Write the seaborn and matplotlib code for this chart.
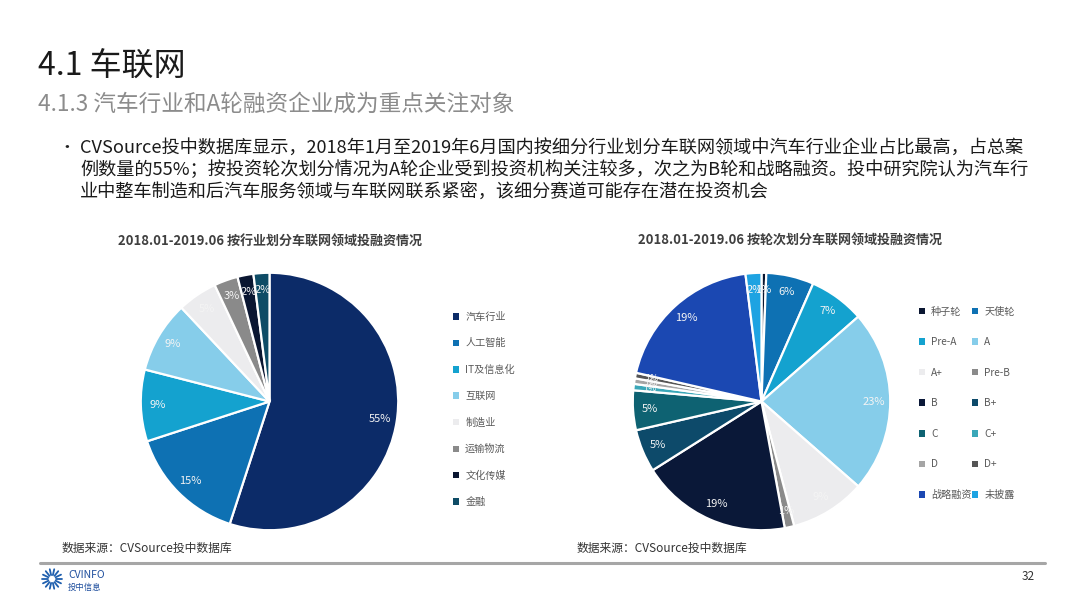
import matplotlib
matplotlib.use("Agg")
import matplotlib.pyplot as plt
from matplotlib.patches import Patch
from matplotlib.lines import Line2D
import seaborn as sns
import numpy as np

# ---------------- data ----------------
ind_labels = ["汽车行业", "人工智能", "IT及信息化", "互联网", "制造业", "运输物流", "文化传媒", "金融"]
ind_values = [55, 15, 9, 9, 5, 3, 2, 2]
ind_colors = ["#0c2b68", "#0e71b3", "#14a2cf", "#86cdea", "#ececee", "#8a8a8a", "#0a1631", "#0e4c66"]

rnd_labels = ["种子轮", "天使轮", "Pre-A", "A", "A+", "Pre-B", "B", "B+",
              "C", "C+", "D", "D+", "战略融资", "未披露"]
rnd_values = [0.6, 6, 7, 23, 9.5, 1.2, 19, 5.4, 5, 0.8, 0.7, 0.7, 19.5, 2]
rnd_colors = ["#0a1631", "#0e71b3", "#14a2cf", "#86cdea", "#ececee", "#8a8a8a", "#0a1838", "#0d4a6a",
              "#0e6272", "#3aa7b8", "#a5a5a5", "#555555", "#1b48b2", "#1ea3e2"]

title_main = "4.1 车联网"
title_sub = "4.1.3 汽车行业和A轮融资企业成为重点关注对象"
bullet_lines = [
    "CVSource投中数据库显示，2018年1月至2019年6月国内按细分行业划分车联网领域中汽车行业企业占比最高，占总案",
    "例数量的55%；按投资轮次划分情况为A轮企业受到投资机构关注较多，次之为B轮和战略融资。投中研究院认为汽车行",
    "业中整车制造和后汽车服务领域与车联网联系紧密，该细分赛道可能存在潜在投资机会",
]
chart_titles = ["2018.01-2019.06 按行业划分车联网领域投融资情况",
                "2018.01-2019.06 按轮次划分车联网领域投融资情况"]
source_text = "数据来源：CVSource投中数据库"
page_no = "32"

# ---------------- style ----------------
sns.set_theme(style="white")
plt.rcParams["font.family"] = ["Noto Sans CJK SC", "DejaVu Sans"]

W, H = 1080, 608
fig = plt.figure(figsize=(W / 100, H / 100), dpi=100)
fig.patch.set_facecolor("white")


def fx(x):
    return x / W


def fy(y):
    return 1 - y / H


def pie_axes(cx, cy, r):
    return fig.add_axes([fx(cx - r), fy(cy + r), 2 * r / W, 2 * r / H])


def draw_pie(ax, values, colors):
    wedges, _, autotexts = ax.pie(
        values, colors=colors, startangle=90, counterclock=False,
        autopct="%.0f%%", pctdistance=0.87, radius=1,
        wedgeprops=dict(edgecolor="white", linewidth=1.6),
        textprops=dict(color="#f4f4f4", fontsize=8))
    ax.set_xlim(-1.01, 1.01)
    ax.set_ylim(-1.01, 1.01)
    ax.set_aspect("equal")
    ax.axis("off")
    return wedges, autotexts


# headings
fig.text(fx(38), fy(67), title_main, fontsize=23, color="#1a1a1a", va="center", ha="left")
fig.text(fx(38), fy(104), title_sub, fontsize=16.3, color="#8c8c8c", va="center", ha="left")
fig.text(fx(58), fy(148), "•", fontsize=12, color="#222222", va="center", ha="left")
for i, line in enumerate(bullet_lines):
    fig.text(fx(80), fy(148 + 22 * i), line, fontsize=13.1, color="#1a1a1a", va="center", ha="left")

# chart titles
fig.text(fx(270), fy(241), chart_titles[0], fontsize=9.4, fontweight="bold",
         color="#404040", ha="center", va="center")
fig.text(fx(790), fy(241), chart_titles[1], fontsize=9.4, fontweight="bold",
         color="#404040", ha="center", va="center")

# pies
axL = pie_axes(269.5, 401.5, 130)
wL, tL = draw_pie(axL, ind_values, ind_colors)
axR = pie_axes(761.5, 401.5, 130)
wR, tR = draw_pie(axR, rnd_values, rnd_colors)
for t in tR[9:12]:
    t.set_fontsize(6.5)

# legends
hL = [Patch(facecolor=c, edgecolor="none") for c in ind_colors]
legL = fig.legend(hL, ind_labels, loc="upper left", bbox_to_anchor=(fx(453), fy(312)),
                  frameon=False, fontsize=7.3, handlelength=0.6, handleheight=0.6,
                  handletextpad=0.6, labelspacing=1.61, borderpad=0, borderaxespad=0)
for t in legL.get_texts():
    t.set_color("#595959")

# right legend: row-major order in 2 columns
order = list(range(0, len(rnd_labels), 2)) + list(range(1, len(rnd_labels), 2))
hR = [Patch(facecolor=rnd_colors[i], edgecolor="none") for i in order]
lR = [rnd_labels[i] for i in order]
legR = fig.legend(hR, lR, loc="upper left", bbox_to_anchor=(fx(919), fy(306.5)), ncol=2,
                  frameon=False, fontsize=7.3, handlelength=0.6, handleheight=0.6,
                  handletextpad=0.6, labelspacing=2.03, columnspacing=0.05,
                  borderpad=0, borderaxespad=0)
for t in legR.get_texts():
    t.set_color("#595959")

# sources
fig.text(fx(62), fy(548), source_text, fontsize=8.5, color="#333333", va="center", ha="left")
fig.text(fx(577), fy(548), source_text, fontsize=8.5, color="#333333", va="center", ha="left")

# bottom rule
fig.add_artist(Line2D([fx(40), fx(1045)], [fy(563), fy(563)], color="#a6a6a6", linewidth=2.2))

# logo
cxl, cyl = 52, 579
for a in np.linspace(0, 2 * np.pi, 14, endpoint=False):
    r1, r2 = 4, 10
    fig.add_artist(Line2D([fx(cxl + r1 * np.cos(a)), fx(cxl + r2 * np.cos(a))],
                          [fy(cyl + r1 * np.sin(a)), fy(cyl + r2 * np.sin(a))],
                          color="#1f5fae", linewidth=1.3))
fig.text(fx(68), fy(575), "CVINFO", fontsize=7.5, color="#1f4f9e", va="center", ha="left")
fig.text(fx(68), fy(587), "投中信息", fontsize=6, color="#1f4f9e", va="center", ha="left")
fig.text(fx(1035), fy(577), page_no, fontsize=8.5, color="#333333", va="center", ha="right")

fig.savefig("out.png", dpi=100, facecolor="white")
